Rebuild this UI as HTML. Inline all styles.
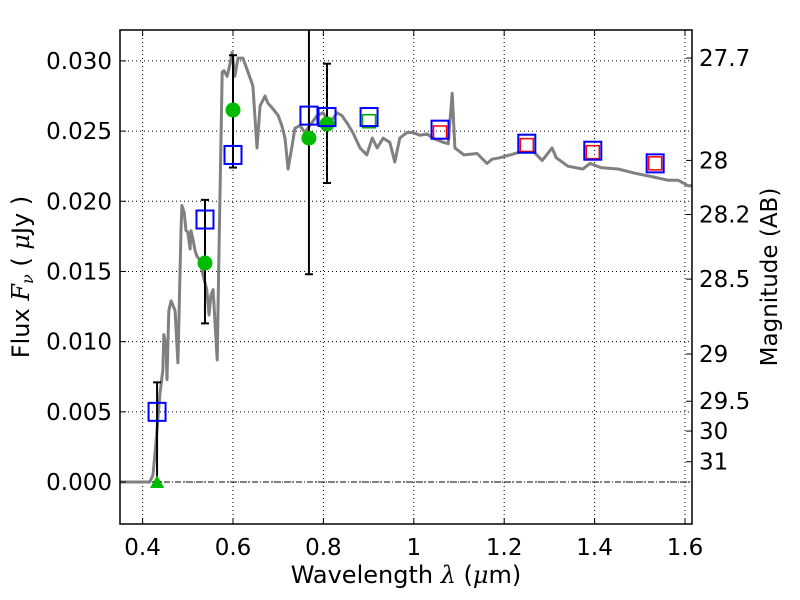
<!DOCTYPE html>
<html><head><meta charset="utf-8">
<style>
html,body{margin:0;padding:0;background:#fff;}
svg{display:block;font-family:"DejaVu Sans","Liberation Sans",sans-serif;}
</style></head>
<body>
<svg id="chart" width="800" height="600" viewBox="0 0 800 600" xmlns="http://www.w3.org/2000/svg">
<rect x="0" y="0" width="800" height="600" fill="#fff"/>
<g id="grid"></g>
<g id="plot"></g>
<g id="axes"></g>
<text x="406" y="583" font-size="24" text-anchor="middle">Wavelength  <tspan font-family="DejaVu Serif" font-style="italic">λ</tspan> (<tspan font-family="DejaVu Serif" font-style="italic">μ</tspan>m)</text>
<text transform="translate(29,277) rotate(-90)" font-size="24" text-anchor="middle">Flux  <tspan font-family="DejaVu Serif" font-style="italic">F<tspan font-size="16" dy="4">ν</tspan></tspan><tspan dy="-4">  ( </tspan><tspan font-family="DejaVu Serif" font-style="italic">μ</tspan>Jy )</text>
<text transform="translate(777,277) rotate(-90)" font-size="23" text-anchor="middle">Magnitude (AB)</text>
</svg>
<script>
const specWave=[0.350,0.416,0.423,0.430,0.438,0.445,0.447,0.452,0.454,0.458,0.463,0.467,0.472,0.478,0.485,0.487,0.492,0.496,0.500,0.505,0.507,0.512,0.516,0.520,0.527,0.534,0.542,0.547,0.551,0.556,0.560,0.565,0.569,0.576,0.580,0.587,0.593,0.598,0.604,0.611,0.622,0.631,0.642,0.644,0.653,0.660,0.671,0.677,0.688,0.700,0.708,0.715,0.722,0.731,0.737,0.748,0.759,0.770,0.786,0.799,0.815,0.830,0.841,0.852,0.865,0.881,0.896,0.908,0.919,0.932,0.947,0.958,0.969,0.985,0.998,1.014,1.029,1.042,1.065,1.076,1.085,1.091,1.111,1.140,1.162,1.173,1.191,1.213,1.235,1.266,1.284,1.306,1.315,1.341,1.374,1.390,1.414,1.452,1.489,1.534,1.562,1.585,1.607,1.616];
const specFlux=[0,0,0.0005,0.0030,0.0062,0.0080,0.0105,0.0097,0.0073,0.0122,0.0129,0.0126,0.0122,0.0085,0.0179,0.0197,0.0192,0.0179,0.0178,0.0166,0.0179,0.0172,0.0165,0.0161,0.0158,0.0147,0.0137,0.0119,0.0133,0.0137,0.0115,0.0087,0.0165,0.0292,0.0293,0.0289,0.0297,0.0306,0.0289,0.0302,0.0302,0.0294,0.0284,0.0282,0.0238,0.0268,0.0275,0.0270,0.0266,0.0261,0.0254,0.0245,0.0223,0.0240,0.0252,0.0254,0.0249,0.0254,0.0261,0.0263,0.0256,0.0263,0.0261,0.0256,0.0249,0.0238,0.0233,0.0245,0.0238,0.0245,0.0242,0.0228,0.0245,0.0249,0.0249,0.0247,0.0248,0.0245,0.0242,0.0241,0.0277,0.0238,0.0233,0.0234,0.0227,0.0230,0.0231,0.0233,0.0235,0.0235,0.0229,0.0238,0.0231,0.0225,0.0223,0.0227,0.0224,0.0223,0.0220,0.0217,0.0215,0.0215,0.0211,0.0211];
const modelWave=[0.432,0.538,0.600,0.768,0.808,0.901,1.058,1.250,1.396,1.534];
const modelFlux=[0.0050,0.0187,0.0233,0.0261,0.0260,0.0260,0.0251,0.0241,0.0236,0.0227];
const obsWave=[0.538,0.600,0.768,0.808];
const obsFlux=[0.0156,0.0265,0.0245,0.0255];
const errWave=[0.432,0.538,0.600,0.768,0.808];
const errLow=[0.0,0.0113,0.0224,0.0148,0.0213];
const errHigh=[0.0071,0.0201,0.0304,0.0360,0.0298];
const greenSqWave=[0.901];
const greenSqFlux=[0.0257];
const redSqWave=[1.058,1.250,1.396,1.534];
const redSqFlux=[0.0249,0.0240,0.0235,0.0227];
const limitWave=[0.432];
const limitFlux=[0.0];
const xTicks=[0.4,0.6,0.8,1.0,1.2,1.4,1.6];
const xTickLabels=["0.4","0.6","0.8","1","1.2","1.4","1.6"];
const yTicks=[0,0.005,0.010,0.015,0.020,0.025,0.030];
const yTickLabels=["0.000","0.005","0.010","0.015","0.020","0.025","0.030"];
const magTicks=[27.7,28,28.2,28.5,29,29.5,30,31];
const magTickLabels=["27.7","28","28.2","28.5","29","29.5","30","31"];

const L=120,R=692,T=30,B=524;
const X0=0.35,X1=0.35+(R-L)/452;
const Y0=-0.00299,Y1=0.0322;
const xs=v=>L+(v-X0)/(X1-X0)*(R-L);
const ys=v=>B-(v-Y0)/(Y1-Y0)*(B-T);
const NS="http://www.w3.org/2000/svg";
function mk(tag,attrs,parent){const e=document.createElementNS(NS,tag);for(const k in attrs)e.setAttribute(k,attrs[k]);parent.appendChild(e);return e;}
const grid=document.getElementById('grid'),plot=document.getElementById('plot'),axes=document.getElementById('axes');

const defs=mk('defs',{},plot);
const cp=mk('clipPath',{id:'clip'},defs);
mk('rect',{x:L,y:T,width:R-L,height:B-T},cp);
plot.setAttribute('clip-path','url(#clip)');

xTicks.forEach((v,i)=>{
  const gl=mk('line',{x1:xs(v),x2:xs(v),y1:T,y2:B,stroke:'#000','stroke-width':1,'stroke-dasharray':'1,3'},grid);
  
  
  const t1=mk('line',{x1:xs(v),x2:xs(v),y1:B,y2:B-6,stroke:'#000','stroke-width':1},axes);
  
  
  const t2=mk('line',{x1:xs(v),x2:xs(v),y1:T,y2:T+6,stroke:'#000','stroke-width':1},axes);
  
  
  const tx=mk('text',{x:xs(v),y:B+31,'font-size':23,'text-anchor':'middle'},axes);
  tx.textContent=xTickLabels[i];
  
  
});
yTicks.forEach((v,i)=>{
  const gl=mk('line',{x1:L,x2:R,y1:ys(v),y2:ys(v),stroke:'#000','stroke-width':1,'stroke-dasharray':'1,3'},grid);
  
  
  const t1=mk('line',{x1:L,x2:L+6,y1:ys(v),y2:ys(v),stroke:'#000','stroke-width':1},axes);
  
  
  const tx=mk('text',{x:L-8,y:ys(v)+8,'font-size':23,'text-anchor':'end'},axes);
  tx.textContent=yTickLabels[i];
  
  
});
magTicks.forEach((m,i)=>{
  const f=Math.pow(10,(23.9-m)/2.5);
  const y=ys(f);
  const t1=mk('line',{x1:R,x2:R-6,y1:y,y2:y,stroke:'#000','stroke-width':1},axes);
  
  
  const tx=mk('text',{x:R+7,y:y+8,'font-size':23,'text-anchor':'start'},axes);
  tx.textContent=magTickLabels[i];
  
  
});

const zl=mk('line',{x1:L,x2:R,y1:ys(0),y2:ys(0),stroke:'#000','stroke-width':1,'stroke-dasharray':'6,2,1,2'},plot);



const pts=specWave.map((w,i)=>xs(w).toFixed(1)+','+ys(specFlux[i]).toFixed(1)).join(' ');
const sp=mk('polyline',{points:pts,fill:'none',stroke:'#808080','stroke-width':3,'stroke-linejoin':'round'},plot);



errWave.forEach((w,i)=>{
  const g=mk('g',{},plot);
  
  
  const x=xs(w),y1=ys(errLow[i]),y2=ys(errHigh[i]);
  mk('line',{x1:x,x2:x,y1:y1,y2:y2,stroke:'#000','stroke-width':2},g);
  mk('line',{x1:x-4,x2:x+4,y1:y1,y2:y1,stroke:'#000','stroke-width':2},g);
  mk('line',{x1:x-4,x2:x+4,y1:y2,y2:y2,stroke:'#000','stroke-width':2},g);
});
obsWave.forEach((w,i)=>{
  const c=mk('circle',{cx:xs(w),cy:ys(obsFlux[i]),r:7.5,fill:'#00bb00'},plot);
  
  
});
limitWave.forEach((w,i)=>{
  const x=xs(w),y=ys(limitFlux[i]);
  const p=mk('polygon',{points:`${x},${y-7} ${x-7},${y+6} ${x+7},${y+6}`,fill:'#00bb00'},plot);
  
  
});
greenSqWave.forEach((w,i)=>{
  const x=xs(w),y=ys(greenSqFlux[i]);
  const r=mk('rect',{x:x-6.5,y:y-6.5,width:13,height:13,fill:'none',stroke:'#00aa00','stroke-width':1.5},plot);
  
  
});
redSqWave.forEach((w,i)=>{
  const x=xs(w),y=ys(redSqFlux[i]);
  const r=mk('rect',{x:x-6.5,y:y-6.5,width:13,height:13,fill:'none',stroke:'#ff0000','stroke-width':1.5},plot);
  
  
});
modelWave.forEach((w,i)=>{
  const x=xs(w),y=ys(modelFlux[i]);
  const r=mk('rect',{x:x-8.5,y:y-9,width:17,height:18,fill:'none',stroke:'#0000ff','stroke-width':2},plot);
  
  
});
const fr=mk('rect',{x:L,y:T,width:R-L,height:B-T,fill:'none',stroke:'#000','stroke-width':1.5},axes);


</script>
</body></html>
